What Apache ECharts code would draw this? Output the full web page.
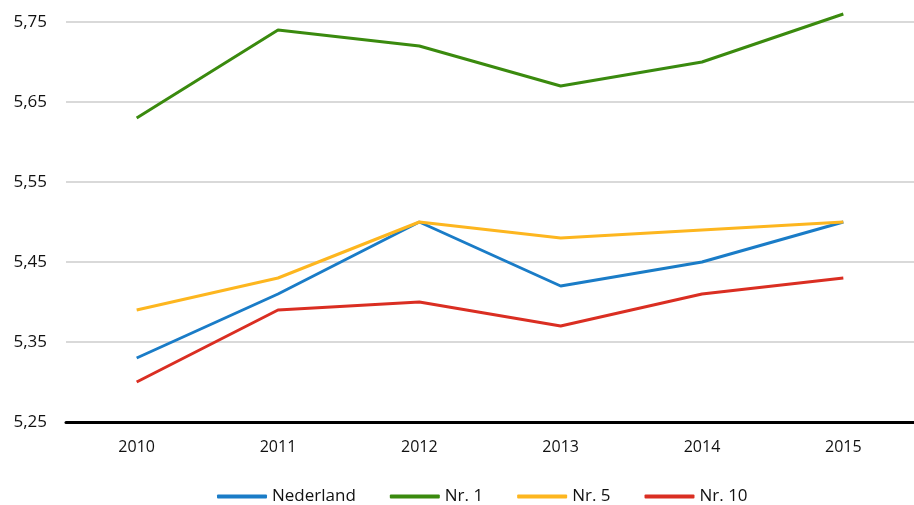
<!DOCTYPE html>
<html>
<head>
<meta charset="utf-8">
<script src="https://cdn.jsdelivr.net/npm/echarts@6/dist/echarts.min.js"></script>
<style>
    html, body { margin: 0; padding: 0; background: #fff; }
    #chart { width: 914px; height: 505px; }
</style>
</head>
<body>
<div id="chart"></div>
<script>
// jaren op de x-as
var years = ['2010', '2011', '2012', '2013', '2014', '2015'];
// reeksen
var nederland = [5.33, 5.41, 5.50, 5.42, 5.45, 5.50];
var nr1 = [5.63, 5.74, 5.72, 5.67, 5.70, 5.76];
var nr5 = [5.39, 5.43, 5.50, 5.48, 5.49, 5.50];
var nr10 = [5.30, 5.39, 5.40, 5.37, 5.41, 5.43];
// waarden op de y-as
var yTicks = [5.25, 5.35, 5.45, 5.55, 5.65, 5.75];

var font = '"Open Sans", "Noto Sans", sans-serif';

function serie(name, data, color) {
    return {
        name: name,
        type: 'line',
        data: data,
        clip: false,
        symbol: 'none',
        lineStyle: { width: 3, color: color },
        itemStyle: { color: color }
    };
}

var chart = echarts.init(document.getElementById('chart'));
chart.setOption({
    animation: false,
    grid: { left: 66, right: 0, top: 22, bottom: 83, outerBoundsMode: 'none' },
    legend: {
        top: 483,
        left: 212,
        icon: 'roundRect',
        itemWidth: 50,
        itemHeight: 4,
        itemGap: 34,
        textStyle: { fontFamily: font, fontSize: 17, color: '#111' },
        data: ['Nederland', 'Nr. 1', 'Nr. 5', 'Nr. 10']
    },
    xAxis: {
        type: 'category',
        data: years,
        boundaryGap: true,
        axisLine: { lineStyle: { color: '#000', width: 3 } },
        axisTick: { show: false },
        axisLabel: { fontFamily: font, fontSize: 16, color: '#111', margin: 17 }
    },
    yAxis: {
        type: 'value',
        min: yTicks[0],
        max: yTicks[yTicks.length - 1],
        axisLine: { show: false },
        axisTick: { show: false, customValues: yTicks },
        axisLabel: {
            customValues: yTicks,
            fontFamily: font, fontSize: 17, color: '#111', margin: 19,
            formatter: function (v) { return v.toFixed(2).replace('.', ','); }
        },
        splitLine: { customValues: yTicks, lineStyle: { color: '#d9d9d9', width: 2 } }
    },
    series: [
        serie('Nederland', nederland, '#1a7cc7'),
        serie('Nr. 1', nr1, '#3a8a0e'),
        serie('Nr. 5', nr5, '#fdb61f'),
        serie('Nr. 10', nr10, '#da2e22')
    ]
});
</script>
</body>
</html>
